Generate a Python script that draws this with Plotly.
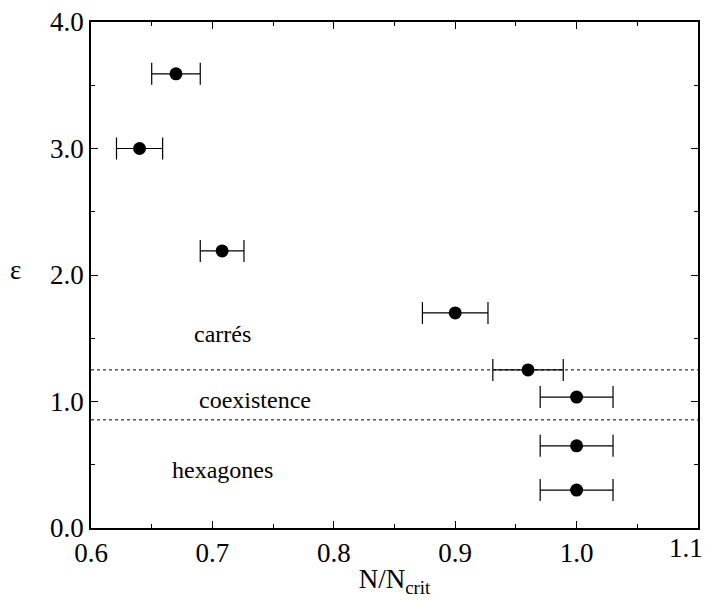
import plotly.graph_objects as go

x_vals = [0.67, 0.64, 0.708, 0.90, 0.96, 1.0, 1.0, 1.0]
y_vals = [3.59, 3.0, 2.19, 1.70, 1.25, 1.035, 0.65, 0.30]
x_err = [0.02, 0.019, 0.018, 0.027, 0.029, 0.03, 0.03, 0.03]

boundaries = [1.25, 0.855]
region_labels = ["carrés", "coexistence", "hexagones"]
label_x = [0.708, 0.735, 0.708]
label_y = [1.53, 1.01, 0.46]

x_ticks = [0.6, 0.7, 0.8, 0.9, 1.0, 1.1]
x_ticklabels = ["0.6", "0.7", "0.8", "0.9", "1.0", "1.1"]
y_ticks = [0.0, 1.0, 2.0, 3.0, 4.0]
y_ticklabels = ["0.0", "1.0", "2.0", "3.0", "4.0"]

FONT = "Liberation Serif, Times New Roman, serif"

fig = go.Figure()
for b in boundaries:
    fig.add_trace(go.Scatter(x=[0.6, 1.1], y=[b, b], mode="lines",
                             line=dict(color="black", width=1, dash="dot"),
                             showlegend=False, hoverinfo="skip"))
fig.add_trace(go.Scatter(
    x=x_vals, y=y_vals, mode="markers",
    marker=dict(color="black", size=13),
    error_x=dict(type="data", array=x_err, visible=True, color="black",
                 thickness=1.2, width=11),
    showlegend=False))

for t, lx, ly in zip(region_labels, label_x, label_y):
    fig.add_annotation(x=lx, y=ly, text=t, showarrow=False,
                       font=dict(family=FONT, size=24, color="black"))

# y-axis title drawn upright, as in the reference
fig.add_annotation(xref="paper", yref="paper", x=-0.125, y=0.51, text="ε",
                   showarrow=False, xanchor="center", yanchor="middle",
                   font=dict(family=FONT, size=27, color="black"))

# the last x tick label sits at the window edge; draw it right-aligned so it is not clipped
shown_x_text = x_ticklabels[:-1] + [""]
fig.add_annotation(xref="x", yref="paper", x=x_ticks[-1], y=0, text=x_ticklabels[-1],
                   showarrow=False, xanchor="right", yanchor="top", xshift=7, yshift=-3,
                   font=dict(family=FONT, size=27, color="black"))

axis_common = dict(showgrid=False, zeroline=False, showline=True, linecolor="black",
                   linewidth=1.5, mirror="ticks", ticks="inside", ticklen=7,
                   tickwidth=1.2, tickcolor="black", automargin=False,
                   ticklabeloverflow="allow",
                   tickfont=dict(family=FONT, size=27, color="black"))
fig.update_xaxes(range=[0.6, 1.1], tickvals=x_ticks, ticktext=shown_x_text,
                 minor=dict(dtick=0.05, ticks="inside", ticklen=4, tickcolor="black", tickwidth=1.2),
                 title=dict(text="N/N<sub>crit</sub>", font=dict(family=FONT, size=27, color="black"),
                            standoff=2),
                 **axis_common)
fig.update_yaxes(range=[0, 4], tickvals=y_ticks, ticktext=y_ticklabels,
                 minor=dict(dtick=0.5, ticks="inside", ticklen=4, tickcolor="black", tickwidth=1.2),
                 **axis_common)
# page body adds an 8px margin all round, so the figure is sized to fit the window
fig.update_layout(width=706, height=590, plot_bgcolor="white", paper_bgcolor="white",
                  margin=dict(l=83, r=16, t=14, b=70))
fig.write_html("out.html")
